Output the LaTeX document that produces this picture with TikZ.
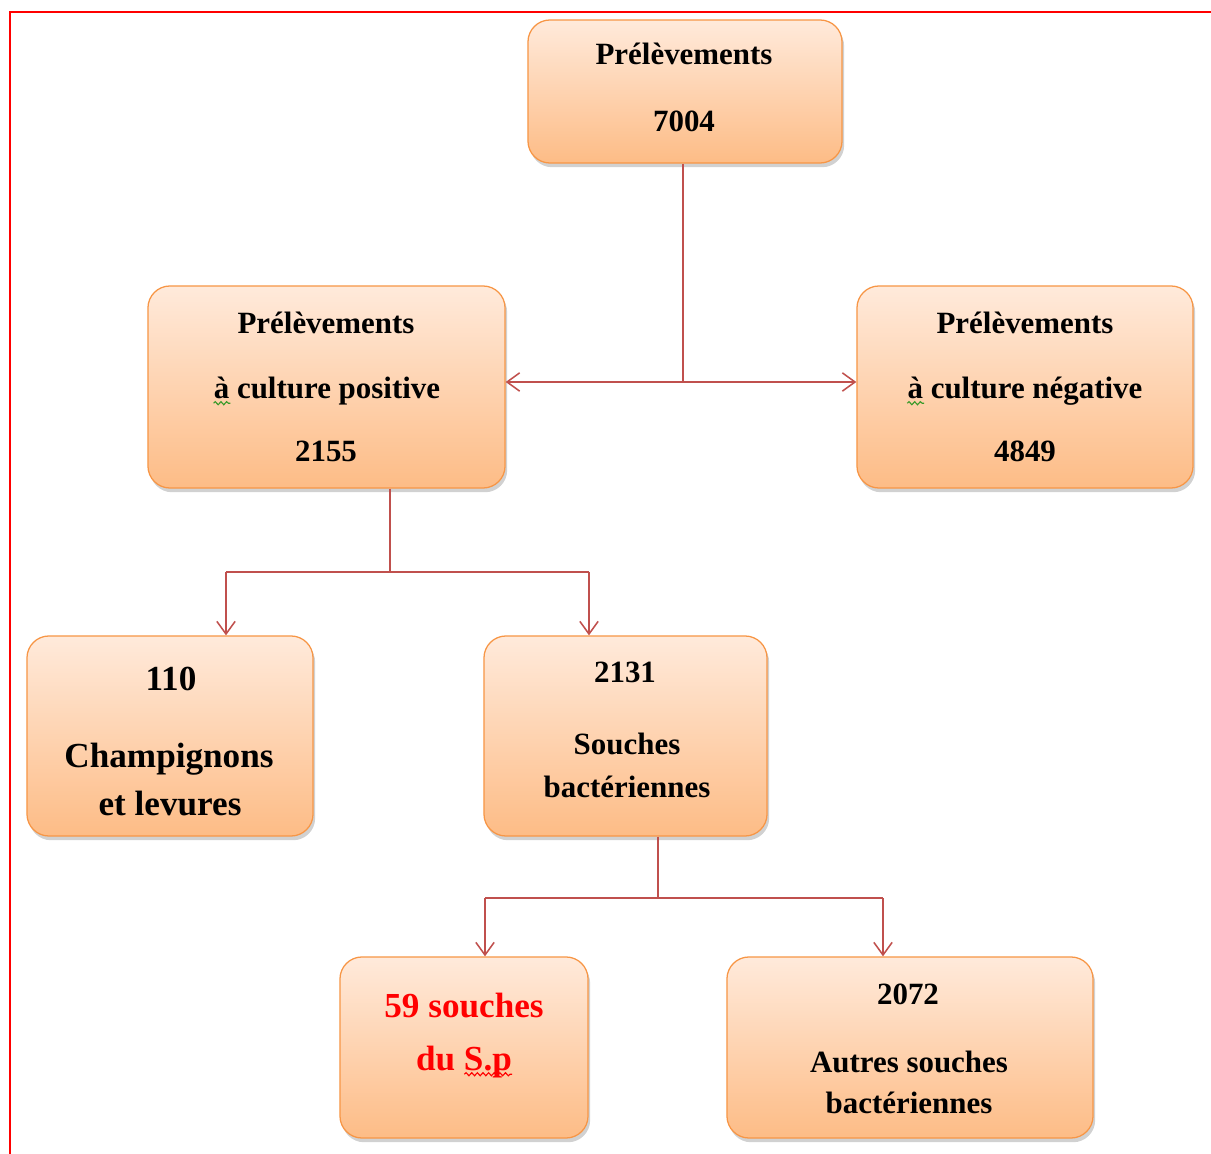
\documentclass[tikz,border=0pt]{standalone}
\usepackage{fontspec}
\setmainfont{Liberation Serif}
\usetikzlibrary{shadows,arrows.meta,decorations.pathmorphing}

\definecolor{boxtop}{HTML}{FFEADB}
\definecolor{boxbot}{HTML}{FDBC86}
\definecolor{boxline}{HTML}{F79646}
\definecolor{link}{HTML}{C0504D}
\definecolor{spell}{HTML}{3A9A2A}

\begin{document}
\begin{tikzpicture}[x=0.025cm,y=-0.025cm,
  box/.style={rectangle,rounded corners=0.55cm,draw=boxline,line width=0.9pt,
    top color=boxtop,bottom color=boxbot,
    drop shadow={shadow xshift=1.5pt,shadow yshift=-3pt,opacity=0.3,fill=black!60}},
  txt/.style={anchor=base,inner sep=0pt,font=\fontsize{22}{26}\selectfont\bfseries},
  bigtxt/.style={txt,font=\fontsize{25}{30}\selectfont\bfseries},
  link/.style={draw=link,line width=1.2pt},
  arr/.style={link,-{Straight Barb[length=9pt,width=13pt,line width=1.1pt]}},
  wave/.style={line width=0.8pt,decorate,
    decoration={snake,amplitude=1.1pt,segment length=4pt}}]
\useasboundingbox (0,0) rectangle (1211,1154);
\draw[red,line width=1.6pt] (1211,12) -- (10,12) -- (10,1154);

\node[box,minimum width=7.85cm,minimum height=3.575cm] (top) at (685,91.5) {};
\node[box,minimum width=8.925cm,minimum height=5.05cm] (pos) at (326.5,387) {};
\node[box,minimum width=8.4cm,minimum height=5.05cm] (neg) at (1025,387) {};
\node[box,minimum width=7.15cm,minimum height=5cm] (fungi) at (170,736) {};
\node[box,minimum width=7.075cm,minimum height=5cm] (bact) at (625.5,736) {};
\node[box,minimum width=6.2cm,minimum height=4.525cm] (sp) at (464,1047.5) {};
\node[box,minimum width=9.15cm,minimum height=4.525cm] (autres) at (910,1047.5) {};

\node[txt] (top1) at (684,65) {Prélèvements};
\node[txt] (top2) at (684,132) {7004};
\node[txt] (pos1) at (326,334) {Prélèvements};
\node[txt] (pos2) at (327,399) {à culture positive};
\node[txt] (pos3) at (326,462) {2155};
\node[txt] (neg1) at (1025,334) {Prélèvements};
\node[txt] (neg2) at (1025,399) {à culture négative};
\node[txt] (neg3) at (1025,462) {4849};
\node[bigtxt] (fungi1) at (171,691) {110};
\node[bigtxt] (fungi2) at (169,767) {Champignons};
\node[bigtxt] (fungi3) at (170,815) {et levures};
\node[txt] (bact1) at (625,683) {2131};
\node[txt] (bact2) at (627,754) {Souches};
\node[txt] (bact3) at (627,797) {bactériennes};
\node[bigtxt,text=red] (sp1) at (464,1017) {59 souches};
\node[bigtxt,text=red] (sp2) at (464,1070) {du S.p};
\node[txt] (autres1) at (908,1004) {2072};
\node[txt] (autres2) at (909,1072) {Autres souches};
\node[txt] (autres3) at (909,1113) {bactériennes};

% spelling marks
\draw[wave,spell] ([yshift=-3pt]pos2.base west) -- ([xshift=12pt,yshift=-3pt]pos2.base west);
\draw[wave,spell] ([yshift=-3pt]neg2.base west) -- ([xshift=12pt,yshift=-3pt]neg2.base west);
\draw[wave,red] ([xshift=-34pt,yshift=-3pt]sp2.base east) -- ([yshift=-3pt]sp2.base east);

\coordinate (j1) at (683,382);
\coordinate (j2) at (390,572);
\coordinate (j2l) at (226,572);
\coordinate (j2r) at (589,572);
\coordinate (j3) at (658,898);
\coordinate (j3l) at (485,898);
\coordinate (j3r) at (883,898);

\draw[link] (top.south -| j1) -- (j1);
\draw[arr] (j1) -- (j1 -| pos.east);
\draw[arr] (j1) -- (j1 -| neg.west);
\draw[link] (pos.south -| j2) -- (j2);
\draw[link] (j2l) -- (j2r);
\draw[arr] (j2l) -- (j2l |- fungi.north);
\draw[arr] (j2r) -- (j2r |- bact.north);
\draw[link] (bact.south -| j3) -- (j3);
\draw[link] (j3l) -- (j3r);
\draw[arr] (j3l) -- (j3l |- sp.north);
\draw[arr] (j3r) -- (j3r |- autres.north);
\end{tikzpicture}
\end{document}
